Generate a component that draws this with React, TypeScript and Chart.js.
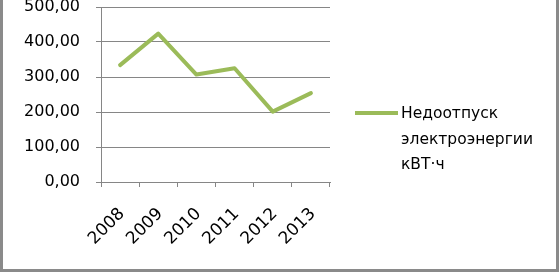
import React, { useEffect, useRef } from "react";
import { Chart, registerables } from "chart.js";

Chart.register(...registerables);

const categories = ["2008", "2009", "2010", "2011", "2012", "2013"];
const seriesValues = [334, 424, 307, 325, 201, 254];
const legendLines = ["Недоотпуск", "электроэнергии", "кВТ·ч"];
const yTickMin = 0;
const yTickMax = 500;
const yTickStep = 100;

const FONT = "DejaVu Sans";
const GREEN = "#9BBB59";
const GRID = "#868686";

export default function App() {
  const ref = useRef<HTMLCanvasElement | null>(null);

  useEffect(() => {
    if (!ref.current) return;
    const legendPlugin = {
      id: "customLegend",
      afterDraw(chart: any) {
        const ctx = chart.ctx;
        ctx.save();
        ctx.strokeStyle = GREEN;
        ctx.lineWidth = 4;
        ctx.beginPath();
        ctx.moveTo(355, 113);
        ctx.lineTo(398, 113);
        ctx.stroke();
        ctx.fillStyle = "#000";
        ctx.font = `15.5px "${FONT}"`;
        ctx.textBaseline = "middle";
        ctx.textAlign = "left";
        legendLines.forEach((t, i) => ctx.fillText(t, 401, 114 + i * 25.5));
        // frame borders
        ctx.fillStyle = "#8a8a8a";
        ctx.fillRect(0, 0, 3, 272);
        ctx.fillRect(556, 0, 3, 272);
        ctx.fillRect(0, 269, 559, 3);
        ctx.restore();
      },
    };

    const chart = new Chart(ref.current, {
      type: "line",
      data: {
        labels: categories,
        datasets: [
          {
            label: legendLines.join(" "),
            data: seriesValues,
            borderColor: GREEN,
            backgroundColor: GREEN,
            borderWidth: 4,
            pointRadius: 0,
            tension: 0,
            borderJoinStyle: "round",
            borderCapStyle: "round",
          },
        ],
      },
      options: {
        animation: false,
        responsive: false,
        maintainAspectRatio: false,
        layout: { padding: { top: 7, left: 0, right: 229, bottom: 0 } },
        plugins: { legend: { display: false }, tooltip: { enabled: false } },
        scales: {
          x: {
            offset: true,
            grid: {
              offset: true,
              drawOnChartArea: false,
              drawTicks: true,
              tickLength: 5,
              color: GRID,
            },
            border: { display: true, color: GRID },
            ticks: {
              minRotation: 45,
              maxRotation: 45,
              padding: 17,
              labelOffset: 2,
              color: "#000",
              font: { family: FONT, size: 17 },
            },
            afterFit(scale: any) {
              scale.height = 90;
              scale.paddingLeft = 0;
              scale.paddingRight = 0;
            },
          },
          y: {
            min: yTickMin,
            max: yTickMax,
            grid: { color: GRID, tickLength: 5 },
            border: { display: true, color: GRID },
            ticks: {
              stepSize: yTickStep,
              padding: 16,
              color: "#000",
              font: { family: FONT, size: 16 },
              callback: (v: any) => Number(v).toFixed(2).replace(".", ","),
            },
            afterFit(scale: any) {
              scale.width = 101;
              scale.paddingTop = 0;
              scale.paddingBottom = 0;
            },
          },
        },
      },
      plugins: [legendPlugin],
    });
    return () => chart.destroy();
  }, []);

  return (
    <div style={{ position: "fixed", left: 0, top: 0, width: 559, height: 272, background: "#fff" }}>
      <canvas ref={ref} width={559} height={272} style={{ display: "block", width: 559, height: 272 }} />
    </div>
  );
}
